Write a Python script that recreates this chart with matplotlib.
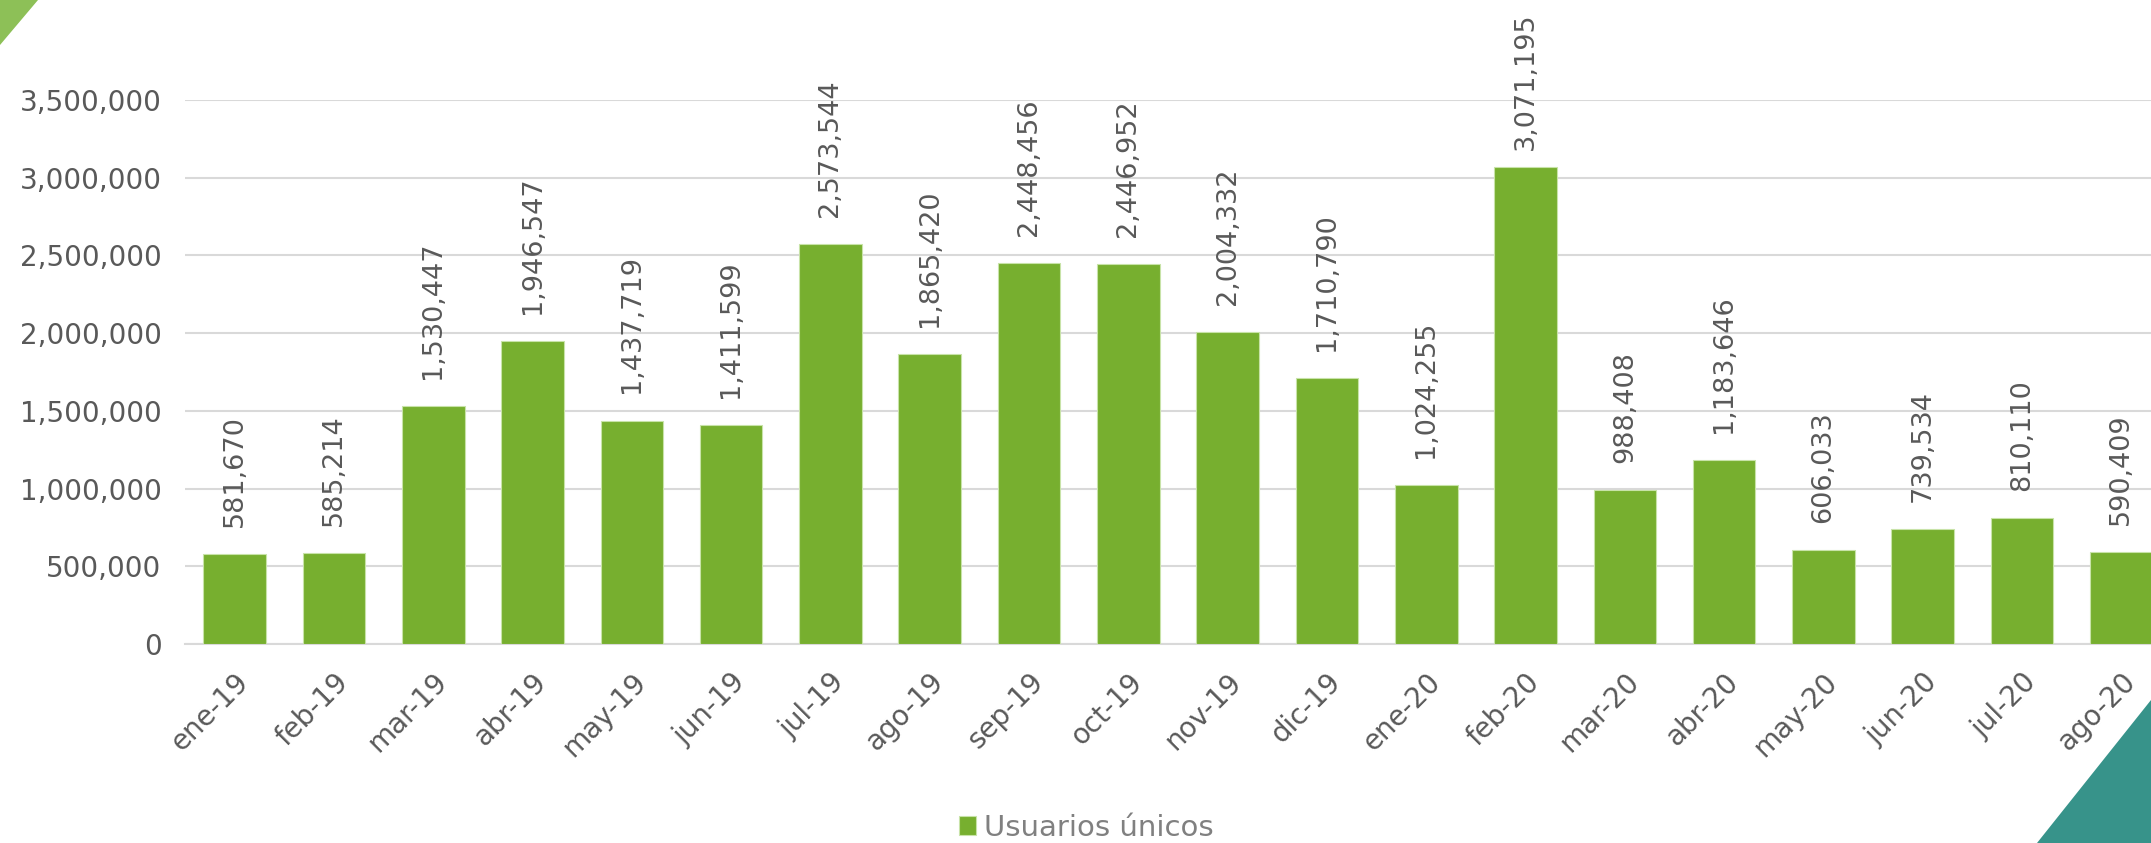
import matplotlib
matplotlib.use("Agg")
import matplotlib.pyplot as plt
from matplotlib.patches import Polygon
from matplotlib.ticker import FuncFormatter

months = ["ene-19", "feb-19", "mar-19", "abr-19", "may-19", "jun-19", "jul-19", "ago-19",
          "sep-19", "oct-19", "nov-19", "dic-19", "ene-20", "feb-20", "mar-20", "abr-20",
          "may-20", "jun-20", "jul-20", "ago-20"]
usuarios = [581670, 585214, 1530447, 1946547, 1437719, 1411599, 2573544, 1865420,
            2448456, 2446952, 2004332, 1710790, 1024255, 3071195, 988408, 1183646,
            606033, 739534, 810110, 590409]
yticks = [0, 500000, 1000000, 1500000, 2000000, 2500000, 3000000, 3500000]

plt.rcParams['font.family'] = ['DejaVu Sans']
W, H = 2151, 843
fig = plt.figure(figsize=(W / 100, H / 100), dpi=100)
ax = fig.add_axes([185 / W, 1 - 644 / H, 1986 / W, 544 / H])

bar_color = "#77AF2F"
x = list(range(len(months)))
bars = ax.bar(x, usuarios, width=0.63, color=bar_color, edgecolor="#C8E3A8",
              linewidth=0.8, zorder=3, label="Usuarios únicos")
labels = []
for xi, v in zip(x, usuarios):
    t = ax.annotate(f"{v:,}", (xi, v), xytext=(0, 19.5), textcoords="offset points",
                    rotation=90, ha="center", va="bottom", fontsize=19.5,
                    color="#595959", annotation_clip=False)
    labels.append(t)

ax.set_xlim(-0.5, len(months) - 0.5)
ax.set_ylim(0, 3500000)
ax.set_yticks(yticks)
ax.yaxis.set_major_formatter(FuncFormatter(lambda v, p: f"{int(v):,}"))
ax.grid(axis="y", color="#D9D9D9", linewidth=1.5, zorder=0)
ax.set_axisbelow(True)
for s in ["top", "right", "left"]:
    ax.spines[s].set_visible(False)
ax.spines["bottom"].set_color("#D9D9D9")
ax.spines["bottom"].set_linewidth(1.5)
ax.tick_params(axis="y", length=0, pad=17, labelsize=20, labelcolor="#595959")
ax.tick_params(axis="x", length=0, pad=17, labelsize=20, labelcolor="#595959")
ax.set_xticks(x)
ax.set_xticklabels(months, rotation=45, ha="right", rotation_mode="anchor")

leg = fig.legend(handles=[bars], labels=["Usuarios únicos"], loc="center",
                 bbox_to_anchor=(1086 / W, 1 - 828 / H), frameon=False,
                 fontsize=21, handlelength=0.6, handleheight=0.6, handletextpad=0.25,
                 labelcolor="#808080")

# keep value labels inside the chart area (top margin ~12 px)
fig.canvas.draw()
renderer = fig.canvas.get_renderer()
for t in labels:
    bb = t.get_window_extent(renderer)
    over = bb.y1 - (H - 12)
    if over > 0:
        ox, oy = t.xyann
        t.xyann = (ox, oy - over * 72 / 100)

# decorative corner triangles
fig.patches.append(Polygon([[0, 1], [38 / W, 1], [0, 1 - 45 / H]], closed=True,
                           transform=fig.transFigure, facecolor="#8DC057",
                           edgecolor="none"))
fig.patches.append(Polygon([[2037 / W, 0], [1, 0], [1, 1 - 700 / H]], closed=True,
                           transform=fig.transFigure, facecolor="#37938A",
                           edgecolor="none"))

fig.savefig("out.png", dpi=100)
